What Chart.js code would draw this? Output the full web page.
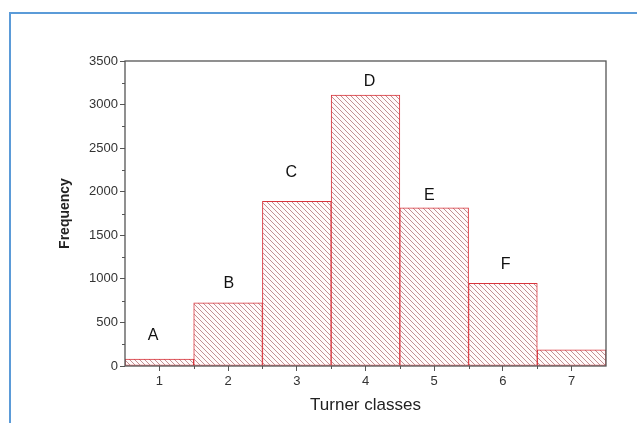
<!DOCTYPE html>
<html>
<head>
<meta charset="utf-8">
<script src="https://cdn.jsdelivr.net/npm/chart.js@4.4.0/dist/chart.umd.min.js"></script>
<style>
  html, body { margin: 0; padding: 0; background: #fff; }
  #wrap { position: relative; width: 637px; height: 423px; overflow: hidden; }
  #frame { position: absolute; left: 9px; top: 12px; width: 700px; height: 500px;
           border-left: 2px solid #5b9bd8; border-top: 2px solid #5b9bd8; }
  #barChart { position: absolute; left: 0; top: 0; }
</style>
</head>
<body>
<div id="wrap">
  <div id="frame"></div>
  <canvas id="barChart" width="637" height="423"></canvas>
</div>
<script>
// data
const classes = ['1', '2', '3', '4', '5', '6', '7'];
const frequency = [80, 725, 1890, 3110, 1815, 950, 185];
const letters = ['A', 'B', 'C', 'D', 'E', 'F', ''];
// where each letter sits (category index, frequency units)
const letterX = [-0.09, 1.01, 1.92, 3.06, 3.93, 5.04, 6];
const letterAt = [350, 941, 2216, 3260, 1950, 1160, 0];

var barCtx = document.getElementById('barChart').getContext('2d');

function hatchPattern() {
    var c = document.createElement('canvas');
    c.width = 5; c.height = 5;
    var p = c.getContext('2d');
    p.fillStyle = '#fffafa';
    p.fillRect(0, 0, 5, 5);
    p.strokeStyle = 'rgba(170, 100, 105, 0.8)';
    p.lineWidth = 0.9;
    p.beginPath();
    p.moveTo(-1, -1); p.lineTo(6, 6);
    p.moveTo(-1, 4); p.lineTo(1, 6);
    p.moveTo(4, -1); p.lineTo(6, 1);
    p.stroke();
    return barCtx.createPattern(c, 'repeat');
}

// frame, minor ticks and the A-F letters
const extras = {
    id: 'extras',
    afterDraw(chart) {
        const ctx = chart.ctx;
        const a = chart.chartArea;
        const x = chart.scales.x, y = chart.scales.y;
        const step = x.getPixelForValue(1) - x.getPixelForValue(0);
        ctx.save();
        ctx.strokeStyle = '#555';
        ctx.lineWidth = 1.3;
        ctx.strokeRect(a.left, a.top, a.right - a.left, a.bottom - a.top);
        ctx.lineWidth = 1;
        ctx.beginPath();
        for (let v = 250; v < 3500; v += 500) {
            const py = Math.round(y.getPixelForValue(v)) + 0.5;
            ctx.moveTo(a.left, py); ctx.lineTo(a.left - 3, py);
        }
        for (let i = 0; i < classes.length - 1; i++) {
            const px = Math.round(x.getPixelForValue(i) + step / 2) + 0.5;
            ctx.moveTo(px, a.bottom); ctx.lineTo(px, a.bottom + 3);
        }
        ctx.stroke();
        ctx.fillStyle = '#111';
        ctx.font = '16px "Liberation Sans", Arial, sans-serif';
        ctx.textAlign = 'center';
        ctx.textBaseline = 'middle';
        letters.forEach((t, i) => {
            if (t) ctx.fillText(t, x.getPixelForValue(0) + letterX[i] * step, y.getPixelForValue(letterAt[i]));
        });
        ctx.restore();
    }
};

Chart.defaults.font.family = '"Liberation Sans", Arial, sans-serif';
Chart.defaults.color = '#222';

new Chart(barCtx, {
    type: 'bar',
    data: {
        labels: classes,
        datasets: [{
            label: 'Frequency',
            data: frequency,
            backgroundColor: hatchPattern(),
            borderColor: '#d8343c',
            borderWidth: 1,
            borderSkipped: false,
            barPercentage: 1,
            categoryPercentage: 1
        }]
    },
    options: {
        responsive: false,
        animation: false,
        layout: { padding: { left: 40, top: 61, right: 31, bottom: 0 } },
        plugins: { legend: { display: false }, tooltip: { enabled: false } },
        scales: {
            x: {
                grid: { offset: false, drawOnChartArea: false, tickLength: 5, color: '#555' },
                border: { display: false },
                ticks: { padding: 3, font: { size: 13 }, color: '#333' },
                title: { display: true, text: 'Turner classes', font: { size: 17 }, color: '#222',
                         padding: { top: 0, bottom: 7 } },
                afterFit: s => { s.height = 57; }
            },
            y: {
                min: 0,
                max: 3500,
                grid: { drawOnChartArea: false, tickLength: 5, color: '#555' },
                border: { display: false },
                ticks: { stepSize: 500, padding: 2, font: { size: 13 }, color: '#333',
                         callback: v => String(v) },
                title: { display: true, text: 'Frequency', font: { size: 14, weight: 'bold' }, color: '#222',
                         padding: { top: 17, bottom: 0 } },
                afterFit: s => { s.width = 85; }
            }
        }
    },
    plugins: [extras]
});
</script>
</body>
</html>
